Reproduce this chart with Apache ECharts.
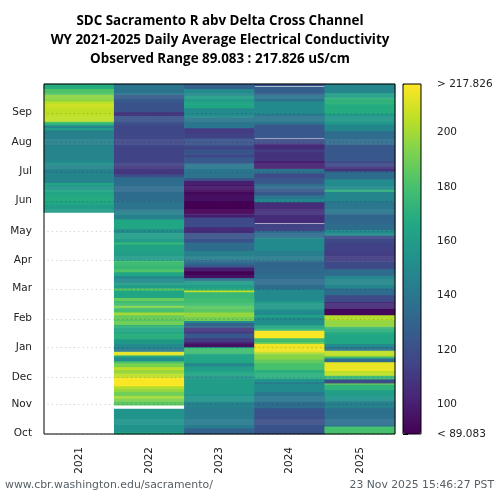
<!DOCTYPE html>
<html>
<head>
<meta charset="utf-8">
<title>SDC Sacramento R</title>
<script src="https://cdn.jsdelivr.net/npm/echarts@6/dist/echarts.min.js"></script>
<style>
html,body{margin:0;padding:0;background:#fff;}
#main{width:500px;height:500px;}
</style>
</head>
<body>
<div id="main"></div>
<script>
const years = ['2021','2022','2023','2024','2025'];
const monthLabels = ['Oct','Nov','Dec','Jan','Feb','Mar','Apr','May','Jun','Jul','Aug','Sep'];
const monthDays = [0,31,59,90,120,151,181,211,243,273,304,335];
const legendTicks = [89.083,100,120,140,160,180,200,217.826];
const obsMin = 89.083;
const obsMax = 217.826;
const viridis = ['#440154','#482475','#414487','#355f8d','#2a788e','#21918c','#22a884','#44bf70','#7ad151','#bddf26','#fde725'];

// each pair is [water year day the value starts on, uS/cm], null = no data
const wy2021 = [[0,null],[231,160],[239,165],[243,168],[248,165],[255,156],[260,165],[262,148],[273,143],[275,148],[281,152],[285,147],[300,145],[317,162],[319,148],[322,170],[324,180],[326,205],[339,207],[343,212],[344,205],[347,196],[354,182],[360,168]];
const wy2022 = [[0,165],[2,155],[26,null],[30,185],[34,192],[37,200],[40,190],[44,197],[47,203],[50,217],[59,205],[63,198],[67,205],[70,192],[74,180],[76,152],[80,165],[82,212],[86,142],[90,150],[94,158],[99,170],[105,165],[111,172],[114,190],[118,182],[119,188],[124,200],[127,180],[132,195],[134,178],[139,188],[142,165],[150,185],[152,160],[158,150],[165,165],[169,182],[172,175],[176,178],[181,160],[191,163],[198,175],[200,160],[210,152],[214,165],[224,145],[233,138],[243,135],[268,120],[271,110],[280,115],[300,117],[323,122],[332,110],[336,122],[346,126],[354,140],[356,138]];
const wy2023 = [[0,130],[6,142],[8,143],[28,146],[34,155],[42,160],[58,155],[61,165],[66,160],[71,148],[74,165],[84,178],[90,150],[91,95],[94,100],[96,112],[100,125],[105,110],[111,130],[116,150],[118,190],[122,197],[127,185],[134,178],[141,175],[148,205],[150,170],[152,160],[160,135],[163,95],[166,90],[170,100],[174,125],[177,135],[182,145],[191,135],[200,122],[210,105],[216,118],[226,100],[230,89],[243,95],[250,92],[255,97],[260,100],[264,120],[267,138],[272,140],[282,125],[289,115],[291,123],[297,115],[300,122],[309,114],[314,112],[319,140],[330,150],[340,165],[346,160],[353,150],[360,128]];
const wy2024 = [[0,122],[11,120],[18,122],[27,135],[34,140],[44,150],[53,135],[54,155],[58,170],[67,180],[74,187],[78,195],[84,205],[86,215],[94,190],[96,178],[100,217],[108,175],[110,165],[114,152],[119,150],[122,165],[124,150],[129,158],[139,150],[151,135],[167,132],[181,143],[191,150],[205,135],[212,115],[219,null],[220,105],[228,108],[233,105],[242,150],[245,140],[249,125],[256,135],[261,125],[267,118],[272,138],[277,100],[285,108],[294,112],[297,105],[303,118],[308,null],[309,125],[323,140],[334,150],[347,138],[354,127],[362,null],[363,125]];
const wy2025 = [[0,180],[8,140],[9,137],[27,145],[35,155],[40,160],[46,172],[52,195],[53,120],[57,175],[61,205],[66,214],[75,135],[79,175],[81,205],[87,140],[91,150],[94,165],[105,170],[110,178],[112,197],[119,203],[124,92],[131,105],[138,118],[145,135],[152,148],[165,135],[172,118],[181,112],[191,114],[200,118],[207,150],[213,135],[219,132],[230,140],[243,148],[253,172],[255,150],[266,135],[274,108],[279,118],[285,125],[302,135],[316,148],[323,157],[334,168],[344,172],[351,160],[356,148]];
const allYears = [wy2021,wy2022,wy2023,wy2024,wy2025];

let days = [];
for (let d = 0; d < 365; d++) {
    days.push(String(d));
}

// expand the runs to one cell per day
function buildCells() {
    let cells = [];
    allYears.forEach((runs, col) => {
        runs.forEach((run, i) => {
            let end = i < runs.length - 1 ? runs[i + 1][0] : 365;
            if (run[1] === null) return;
            for (let d = run[0]; d < end; d++) {
                cells.push([col, d, run[1]]);
            }
        });
    });
    return cells;
}

function isMonth(index) {
    return monthDays.indexOf(index) >= 0;
}

let chart = echarts.init(document.getElementById('main'), null, {renderer: 'canvas'});
let textColor = '#000';
let footColor = '#555f66';
let plainFont = 'DejaVu Sans';
let option = {
    animation: false,
    backgroundColor: '#fff',
    title: {
        text: 'SDC Sacramento R abv Delta Cross Channel\nWY 2021-2025 Daily Average Electrical Conductivity\nObserved Range 89.083 : 217.826 uS/cm',
        left: 215,
        top: 7,
        textAlign: 'center',
        textStyle: {fontFamily: 'Open Sans', fontWeight: 'bold', fontSize: 13.4, lineHeight: 19, color: textColor}
    },
    grid: [
        {left: 44, top: 84, width: 351, height: 350, show: true, borderColor: '#000', borderWidth: 1, z: 5},
        {left: 403, top: 84, width: 18, height: 350, show: true, borderColor: '#000', borderWidth: 1, z: 5}
    ],
    xAxis: [
        {
            type: 'category',
            data: years,
            gridIndex: 0,
            axisLine: {show: false},
            axisTick: {alignWithLabel: true, length: 5, lineStyle: {color: '#000'}},
            axisLabel: {rotate: 90, margin: 13, fontFamily: plainFont, fontSize: 10.5, color: '#222'},
            splitLine: {show: false}
        },
        {type: 'value', gridIndex: 1, min: 0, max: 1, show: false}
    ],
    yAxis: [
        {
            type: 'category',
            data: days,
            gridIndex: 0,
            z: 4,
            axisLine: {show: false},
            axisTick: {alignWithLabel: true, length: 5, interval: i => isMonth(i), lineStyle: {color: '#000'}},
            axisLabel: {
                interval: i => isMonth(i),
                margin: 12,
                fontFamily: plainFont,
                fontSize: 10.5,
                color: '#222',
                formatter: (v, i) => monthLabels[monthDays.indexOf(Number(v))]
            },
            splitLine: {
                show: true,
                interval: i => isMonth(i),
                lineStyle: {color: 'rgba(0,0,0,0.18)', width: 1, type: [1.2, 3.2], dashOffset: 1}
            }
        },
        {
            type: 'value',
            gridIndex: 1,
            position: 'right',
            min: obsMin,
            max: obsMax,
            splitLine: {show: false},
            axisLine: {show: false},
            axisTick: {show: true, length: 5, customValues: legendTicks, lineStyle: {color: '#000'}},
            axisLabel: {
                show: true,
                customValues: legendTicks,
                margin: 16,
                fontFamily: plainFont,
                fontSize: 10.5,
                color: '#222',
                formatter: v => v === obsMin ? '< 89.083' : v === obsMax ? '> 217.826' : String(v)
            }
        }
    ],
    visualMap: {
        type: 'continuous',
        seriesIndex: 0,
        dimension: 2,
        min: obsMin,
        max: obsMax,
        calculable: false,
        showLabel: false,
        text: null,
        left: 403,
        top: 84,
        itemWidth: 18,
        itemHeight: 350,
        padding: 0,
        inRange: {color: viridis}
    },
    series: [{
        type: 'heatmap',
        xAxisIndex: 0,
        yAxisIndex: 0,
        data: buildCells(),
        progressive: 0,
        emphasis: {disabled: true}
    }],
    graphic: [
        {type: 'text', left: 5, top: 480, style: {text: 'www.cbr.washington.edu/sacramento/', fontFamily: plainFont, fontSize: 10.9, fill: footColor}},
        {type: 'text', right: 6, top: 480, style: {text: '23 Nov 2025 15:46:27 PST', fontFamily: plainFont, fontSize: 10.8, fill: footColor}}
    ]
};
chart.setOption(option);
</script>
</body>
</html>
